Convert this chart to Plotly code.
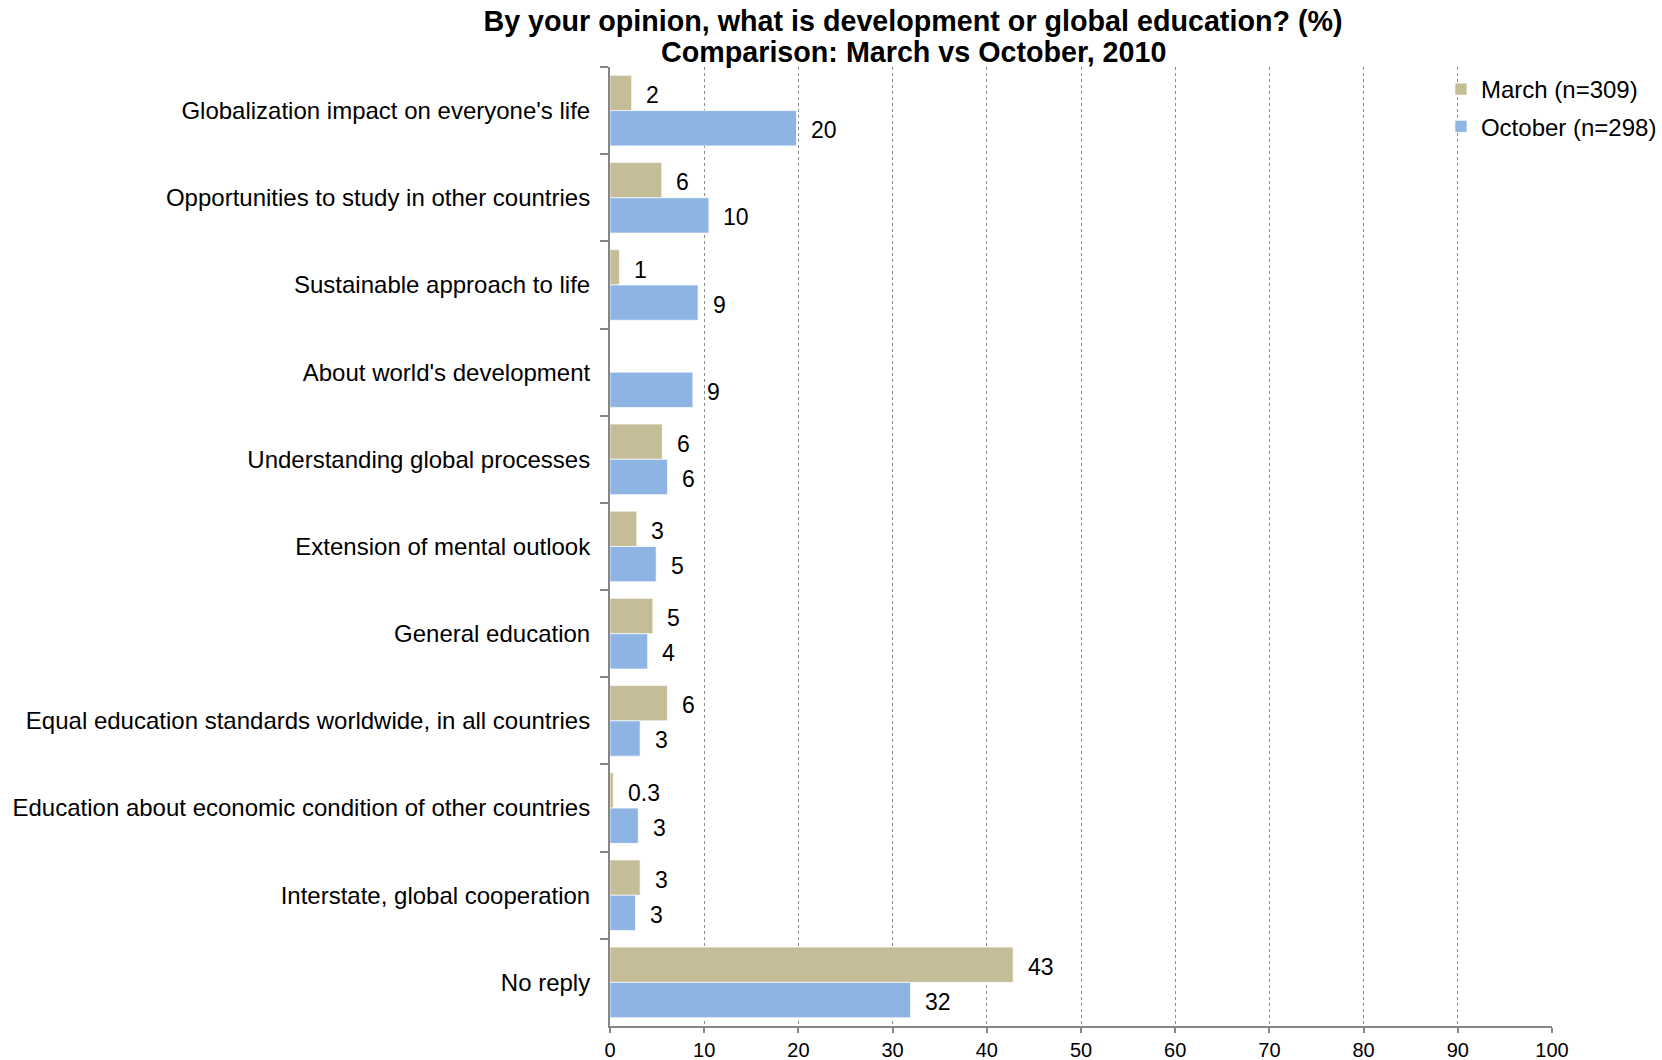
import plotly.graph_objects as go

# categories, top to bottom
categories = [
    "Globalization impact on everyone's life",
    "Opportunities to study in other countries",
    "Sustainable approach to life",
    "About world's development",
    "Understanding global processes",
    "Extension of mental outlook",
    "General education",
    "Equal education standards worldwide, in all countries",
    "Education about economic condition of other countries",
    "Interstate, global cooperation",
    "No reply",
]

march = [2.3, 5.5, 1.0, None, 5.55, 2.85, 4.55, 6.1, 0.35, 3.2, 42.8]
october = [19.8, 10.5, 9.35, 8.8, 6.1, 4.9, 4.0, 3.2, 3.0, 2.7, 31.9]

march_labels = ["2", "6", "1", "", "6", "3", "5", "6", "0.3", "3", "43"]
october_labels = ["20", "10", "9", "9", "6", "5", "4", "3", "3", "3", "32"]

x_ticks = [0, 10, 20, 30, 40, 50, 60, 70, 80, 90, 100]

title_line1 = "By your opinion, what is development or global education? (%)"
title_line2 = "Comparison: March vs October, 2010"

FONT = "Liberation Sans, Arial, sans-serif"
C_MARCH = "#C4BD97"
C_OCT = "#8EB4E3"

fig = go.Figure()
fig.add_trace(go.Bar(
    y=categories, x=march, orientation="h", name="March (n=309)",
    legendgroup="m", marker=dict(color=C_MARCH, line=dict(color="rgba(255,255,255,0.7)", width=1)),
    hoverinfo="x+y",
))
fig.add_trace(go.Bar(
    y=categories, x=october, orientation="h", name="October (n=298)",
    legendgroup="o", marker=dict(color=C_OCT, line=dict(color="rgba(255,255,255,0.7)", width=1)),
    hoverinfo="x+y",
))

# value labels to the right of each bar
annotations = []
for cat, v, t in zip(categories, march, march_labels):
    if v is None or not t:
        continue
    annotations.append(dict(x=v, y=cat, text=t, xanchor="left", yanchor="middle",
                            xshift=12.5, yshift=15.4, showarrow=False,
                            font=dict(family=FONT, size=23, color="black")))
for cat, v, t in zip(categories, october, october_labels):
    if v is None or not t:
        continue
    annotations.append(dict(x=v, y=cat, text=t, xanchor="left", yanchor="middle",
                            xshift=12.5, yshift=-19.6, showarrow=False,
                            font=dict(family=FONT, size=23, color="black")))

# second title line
annotations.append(dict(text=title_line2, xref="paper", yref="paper",
                        x=(913 - 610) / 942, y=1 + 15 / 959, xanchor="center", yanchor="middle",
                        showarrow=False,
                        font=dict(family=FONT, size=28.7, color="black", weight="bold")))

fig.update_layout(
    width=1662, height=1060,
    title=dict(
        text=title_line1, xref="container", yref="container",
        x=913 / 1662, xanchor="center", y=1 - 21 / 1060, yanchor="middle",
        font=dict(family=FONT, size=28.7, color="black", weight="bold"),
    ),
    barmode="group", bargap=0.19, bargroupgap=0,
    plot_bgcolor="white", paper_bgcolor="white",
    margin=dict(l=610, r=110, t=67, b=34, autoexpand=False),
    font=dict(family=FONT, size=24, color="black"),
    legend=dict(xref="container", yref="container", x=0.867, y=1 - 67 / 1060,
                xanchor="left", yanchor="top",
                font=dict(family=FONT, size=24, color="black"),
                tracegroupgap=3, bgcolor="rgba(0,0,0,0)"),
    annotations=annotations,
    showlegend=True,
)

fig.update_xaxes(
    range=[0, 100], tickvals=x_ticks, ticktext=[str(v) for v in x_ticks],
    showgrid=True, gridcolor="#8a8a8a", griddash="dot", gridwidth=1,
    showline=True, linecolor="#868686", linewidth=2,
    ticks="outside", ticklen=5, tickcolor="#868686", tickwidth=2,
    tickfont=dict(family=FONT, size=20, color="black"),
    ticklabelstandoff=0,
    zeroline=False,
)
fig.update_yaxes(
    autorange="reversed",
    showline=True, linecolor="#868686", linewidth=2,
    ticks="outside", tickson="boundaries", ticklen=8, tickcolor="#868686", tickwidth=2,
    tickfont=dict(family=FONT, size=24, color="black"),
    ticklabelstandoff=13,
    showgrid=False,
)

fig.write_html(
    "out.html",
    config={"displayModeBar": False},
    post_script="document.body.style.margin='0';document.body.style.overflow='hidden';",
)
